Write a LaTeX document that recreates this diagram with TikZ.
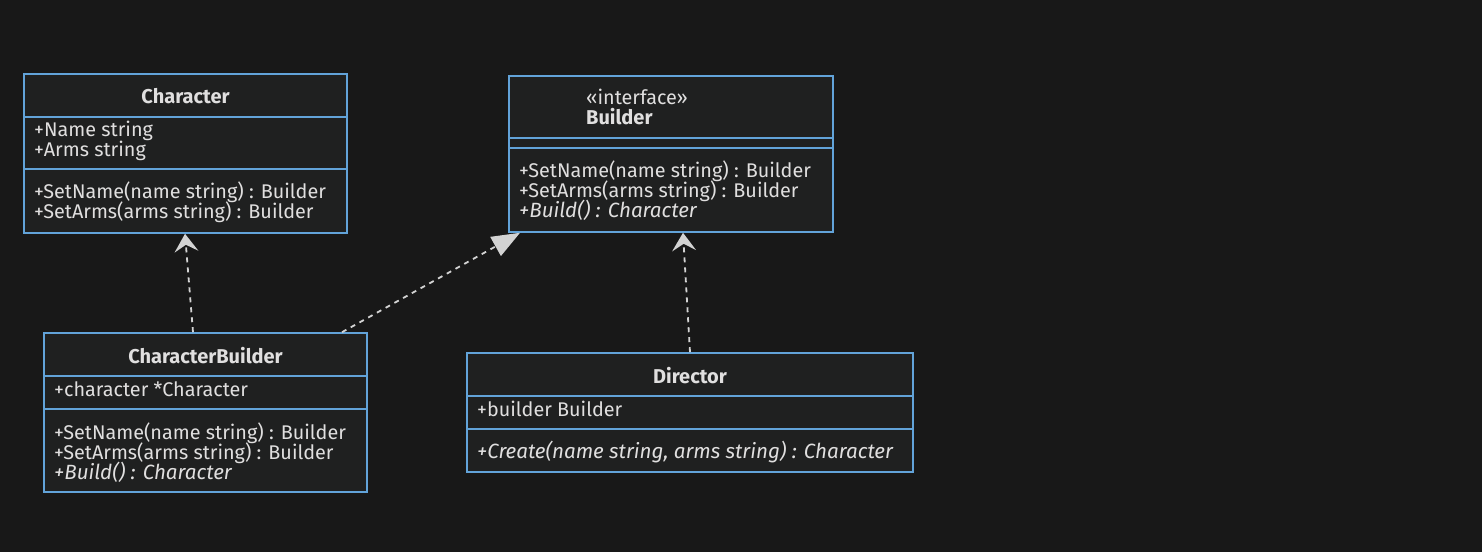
\documentclass[tikz,border=0pt]{standalone}
\usepackage{fontspec}
\setmainfont{Fira Sans}
\usetikzlibrary{arrows.meta}
\definecolor{bgcol}{HTML}{181818}
\definecolor{boxfill}{HTML}{1F2020}
\definecolor{boxedge}{HTML}{62A3D9}
\definecolor{txtcol}{HTML}{E0DFDF}
\definecolor{arrcol}{HTML}{D3D3D3}
\tikzset{
  umlbox/.style={draw=boxedge, fill=boxfill, line width=1.6bp, rectangle, inner sep=0pt},
  sepline/.style={draw=boxedge, line width=1.6bp},
  txt/.style={text=txtcol, inner sep=0pt, font=\fontsize{19.8bp}{20bp}\selectfont},
  itxt/.style={txt, font=\fontsize{20.6bp}{20bp}\selectfont\itshape},
  ttl/.style={txt, font=\fontsize{20bp}{20bp}\selectfont\bfseries},
  dep/.style={draw=arrcol, line width=1.8bp, dash pattern=on 5bp off 5bp,
    -{Stealth[length=18bp, width=24bp, inset=7bp, fill=arrcol, line width=0pt]}},
  real/.style={draw=arrcol, line width=1.8bp, dash pattern=on 5bp off 5bp,
    -{Triangle[length=28bp, width=22bp, fill=arrcol, line width=0pt]}},
}
\begin{document}
\begin{tikzpicture}[x=1bp, y=-1bp]
\fill[bgcol] (0,0) rectangle (1482,552);
\useasboundingbox (0,0) rectangle (1482,552);

% Character
\node[umlbox, minimum width=323bp, minimum height=159bp] (character) at (185.5,153.5) {};
\draw[sepline] (character.west |- 0,117) -- (character.east |- 0,117);
\draw[sepline] (character.west |- 0,169) -- (character.east |- 0,169);
\node[ttl, anchor=base] (character-t) at (185.5,104) {Character};
\node[txt, anchor=base west] (character-a1) at (34,137) {+Name string};
\node[txt, anchor=base west] (character-a2) at (34,157) {+Arms string};
\node[txt, anchor=base west] (character-m1) at (34,199) {+SetName(name string) : Builder};
\node[txt, anchor=base west] (character-m2) at (34,219) {+SetArms(arms string) : Builder};

% Builder
\node[umlbox, minimum width=324bp, minimum height=156bp] (builder) at (671,154) {};
\draw[sepline] (builder.west |- 0,138) -- (builder.east |- 0,138);
\draw[sepline] (builder.west |- 0,148) -- (builder.east |- 0,148);
\node[txt, anchor=base west] (builder-s) at (586,105) {«interface»};
\node[ttl, anchor=base west] (builder-t) at (586,125) {Builder};
\node[txt, anchor=base west] (builder-m1) at (519,178) {+SetName(name string) : Builder};
\node[txt, anchor=base west] (builder-m2) at (519,198) {+SetArms(arms string) : Builder};
\node[itxt, anchor=base west] (builder-m3) at (519,218) {+Build() : Character};

% CharacterBuilder
\node[umlbox, minimum width=323bp, minimum height=159bp] (cb) at (205.5,412.5) {};
\draw[sepline] (cb.west |- 0,376) -- (cb.east |- 0,376);
\draw[sepline] (cb.west |- 0,409) -- (cb.east |- 0,409);
\node[ttl, anchor=base] (cb-t) at (205.5,363) {CharacterBuilder};
\node[txt, anchor=base west] (cb-a1) at (54,396) {+character *Character};
\node[txt, anchor=base west] (cb-m1) at (54,439) {+SetName(name string) : Builder};
\node[txt, anchor=base west] (cb-m2) at (54,459) {+SetArms(arms string) : Builder};
\node[itxt, anchor=base west] (cb-m3) at (54,479) {+Build() : Character};

% Director
\node[umlbox, minimum width=446bp, minimum height=119bp] (director) at (690,412.5) {};
\draw[sepline] (director.west |- 0,396) -- (director.east |- 0,396);
\draw[sepline] (director.west |- 0,429) -- (director.east |- 0,429);
\node[ttl, anchor=base] (director-t) at (690,383) {Director};
\node[txt, anchor=base west] (director-a1) at (477,416) {+builder Builder};
\node[itxt, anchor=base west] (director-m1) at (477,458) {+Create(name string, arms string) : Character};

% connectors
\draw[dep] (cb.north -| 193,0) -- (character.south -| 185,0);
\draw[real] (cb.north -| 342,0) -- (builder.south -| 520,0);
\draw[dep] (director.north -| 690,0) -- (builder.south -| 683,0);
\end{tikzpicture}
\end{document}
